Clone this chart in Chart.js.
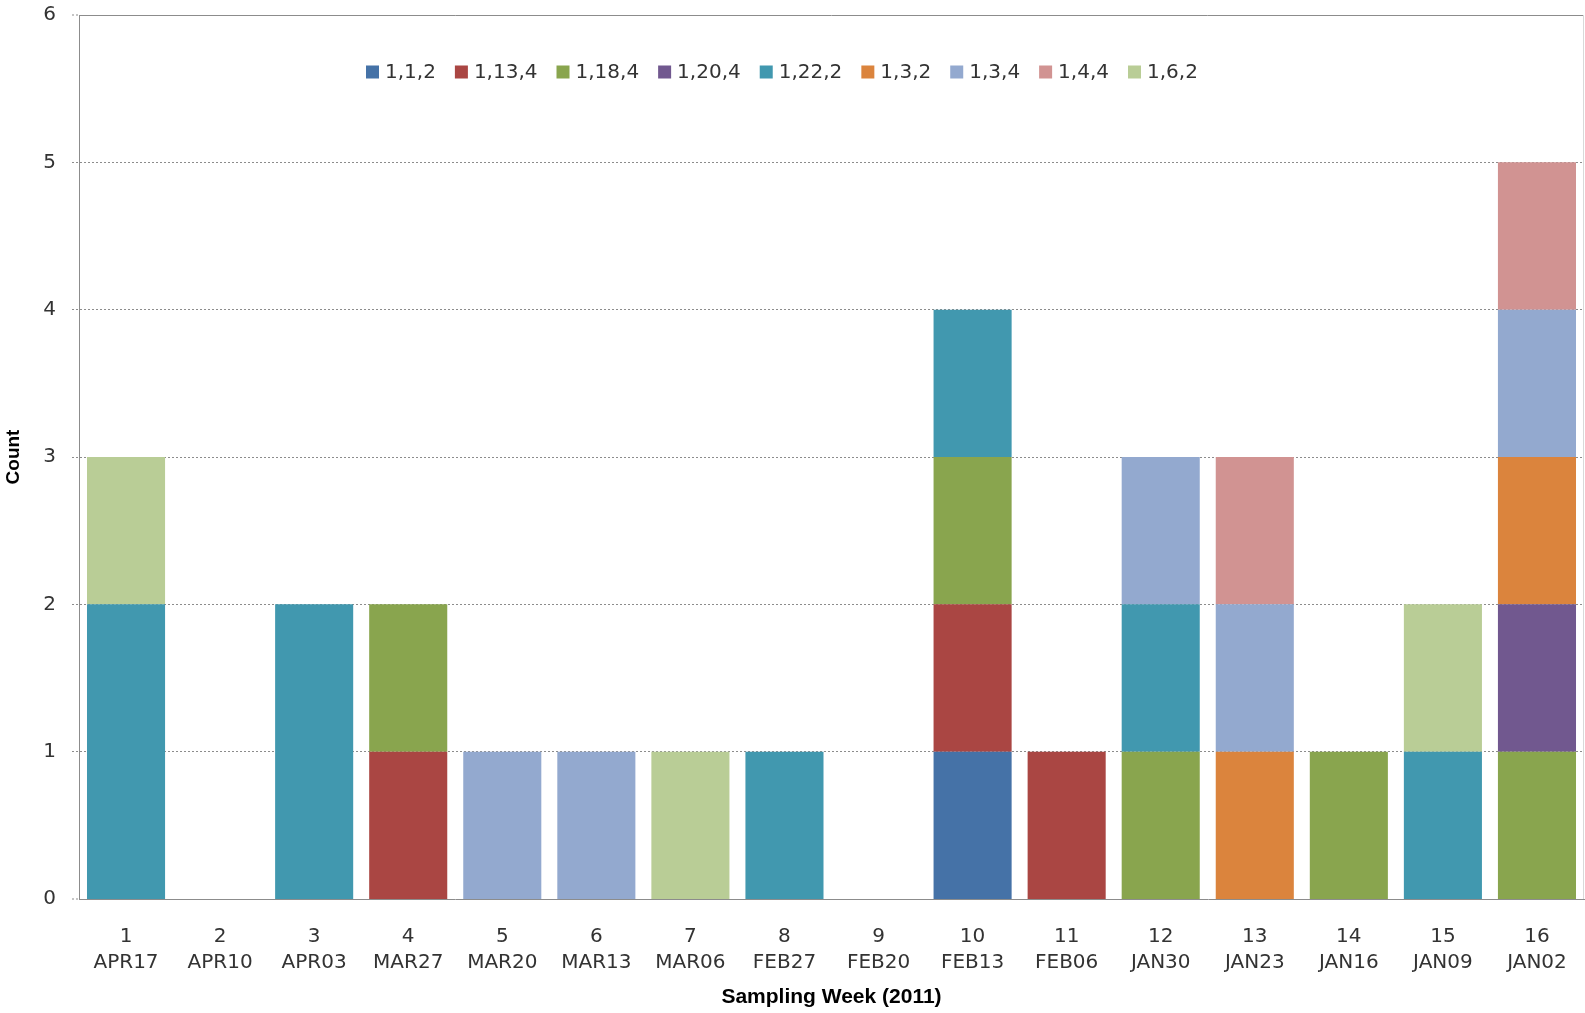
<!DOCTYPE html>
<html>
<head>
<meta charset="utf-8">
<title>Sampling Week (2011)</title>
<script src="https://cdn.jsdelivr.net/npm/chart.js@4.4.1/dist/chart.umd.min.js"></script>
<style>
  html, body { margin: 0; padding: 0; background: #ffffff; }
  #wrap { width: 1585px; height: 1013px; }
</style>
</head>
<body>
<div id="wrap"><canvas id="chart" width="1585" height="1013"></canvas></div>
<script>
// Sampling weeks: week number and week label
const weekNumbers = ['1','2','3','4','5','6','7','8','9','10','11','12','13','14','15','16'];
const weekDates = ['APR17','APR10','APR03','MAR27','MAR20','MAR13','MAR06','FEB27','FEB20','FEB13','FEB06','JAN30','JAN23','JAN16','JAN09','JAN02'];

// Counts per type, one entry per sampling week
const type_1_1_2  = [0,0,0,0,0,0,0,0,0,1,0,0,0,0,0,0];
const type_1_13_4 = [0,0,0,1,0,0,0,0,0,1,1,0,0,0,0,0];
const type_1_18_4 = [0,0,0,1,0,0,0,0,0,1,0,1,0,1,0,1];
const type_1_20_4 = [0,0,0,0,0,0,0,0,0,0,0,0,0,0,0,1];
const type_1_22_2 = [2,0,2,0,0,0,0,1,0,1,0,1,0,0,1,0];
const type_1_3_2  = [0,0,0,0,0,0,0,0,0,0,0,0,1,0,0,1];
const type_1_3_4  = [0,0,0,0,1,1,0,0,0,0,0,1,1,0,0,1];
const type_1_4_4  = [0,0,0,0,0,0,0,0,0,0,0,0,1,0,0,1];
const type_1_6_2  = [1,0,0,0,0,0,1,0,0,0,0,0,0,0,1,0];

const seriesNames = ['1,1,2','1,13,4','1,18,4','1,20,4','1,22,2','1,3,2','1,3,4','1,4,4','1,6,2'];
const seriesValues = [type_1_1_2, type_1_13_4, type_1_18_4, type_1_20_4, type_1_22_2, type_1_3_2, type_1_3_4, type_1_4_4, type_1_6_2];
const seriesColors = ['#4572A7','#AA4643','#89A54E','#71588F','#4198AF','#DB843D','#93A9CF','#D19392','#B9CD96'];

const yTicks = [0,1,2,3,4,5,6];

const FONT = 'DejaVu Sans';

// Legend drawn inside the plot area, in one row
const insideLegend = {
  id: 'insideLegend',
  afterDraw(chart, args, opts) {
    const ctx = chart.ctx;
    ctx.save();
    ctx.font = opts.size + 'px "' + FONT + '"';
    ctx.textBaseline = 'middle';
    ctx.textAlign = 'left';
    let x = opts.x;
    const y = opts.y;
    chart.data.datasets.forEach(ds => {
      ctx.fillStyle = ds.backgroundColor;
      ctx.fillRect(x, y - opts.box / 2, opts.box, opts.box);
      x += opts.box + opts.gap;
      ctx.fillStyle = '#333333';
      ctx.fillText(ds.label, x, y + 1);
      x += ctx.measureText(ds.label).width + opts.spacing;
    });
    ctx.restore();
  }
};

// Frame on the top and right of the plot area
const plotFrame = {
  id: 'plotFrame',
  afterDatasetsDraw(chart) {
    const {ctx, chartArea: a} = chart;
    ctx.save();
    ctx.lineWidth = 1;
    ctx.strokeStyle = '#8c8c8c';
    ctx.beginPath();
    ctx.moveTo(a.left, Math.round(a.top) + 0.5);
    ctx.lineTo(a.right, Math.round(a.top) + 0.5);
    ctx.stroke();
    ctx.strokeStyle = '#d9d9d9';
    ctx.beginPath();
    ctx.moveTo(Math.round(a.right) - 0.5, a.top);
    ctx.lineTo(Math.round(a.right) - 0.5, a.bottom);
    ctx.stroke();
    ctx.restore();
  }
};

// The axes take no extra room at their ends
function noEndPadding(scale) {
  scale.paddingTop = 0;
  scale.paddingBottom = 0;
  scale.paddingLeft = 0;
  scale.paddingRight = 0;
}

new Chart(document.getElementById('chart'), {
  type: 'bar',
  data: {
    labels: weekNumbers.map((n, i) => [n, weekDates[i]]),
    datasets: seriesNames.map((name, i) => ({
      label: name,
      data: seriesValues[i],
      backgroundColor: seriesColors[i],
      borderWidth: 0,
      categoryPercentage: 1.0,
      barPercentage: 0.83
    }))
  },
  options: {
    responsive: false,
    animation: false,
    devicePixelRatio: 1,
    layout: { padding: { top: 15, right: 1, left: 0, bottom: 0 } },
    plugins: {
      legend: { display: false },
      tooltip: { enabled: false },
      insideLegend: { x: 366, y: 72, box: 13, gap: 6, spacing: 19, size: 20 }
    },
    scales: {
      x: {
        stacked: true,
        grid: { display: false, drawTicks: false },
        border: { display: true, color: '#8c8c8c', width: 1 },
        ticks: {
          color: '#333333',
          font: { family: FONT, size: 20, lineHeight: 1.3 },
          padding: 25,
          maxRotation: 0,
          autoSkip: false
        },
        title: {
          display: true,
          text: 'Sampling Week (2011)',
          color: '#000000',
          font: { family: 'Liberation Sans', size: 21, weight: 'bold', lineHeight: 1.2 },
          padding: { top: 0, bottom: 3 }
        },
        afterFit(scale) { scale.height = 114; noEndPadding(scale); }
      },
      y: {
        stacked: true,
        min: 0,
        max: 6,
        afterBuildTicks(scale) { scale.ticks = yTicks.map(v => ({ value: v })); },
        grid: {
          color: '#8c8c8c',
          lineWidth: ctx => (ctx.tick && (ctx.tick.value === 0 || ctx.tick.value === 6)) ? 0 : 1,
          tickLength: 7,
          tickColor: '#8c8c8c',
          tickWidth: 1,
          tickBorderDash: [2, 2]
        },
        border: { display: true, color: '#8c8c8c', width: 1, dash: [2, 2] },
        ticks: {
          color: '#333333',
          font: { family: FONT, size: 20 },
          padding: 16
        },
        title: {
          display: true,
          text: 'Count',
          color: '#000000',
          font: { family: 'Liberation Sans', size: 19, weight: 'bold', lineHeight: 1.2 },
          padding: { top: 2, bottom: 0 }
        },
        afterFit(scale) { scale.width = 79; noEndPadding(scale); }
      }
    }
  },
  plugins: [insideLegend, plotFrame]
});
</script>
</body>
</html>
